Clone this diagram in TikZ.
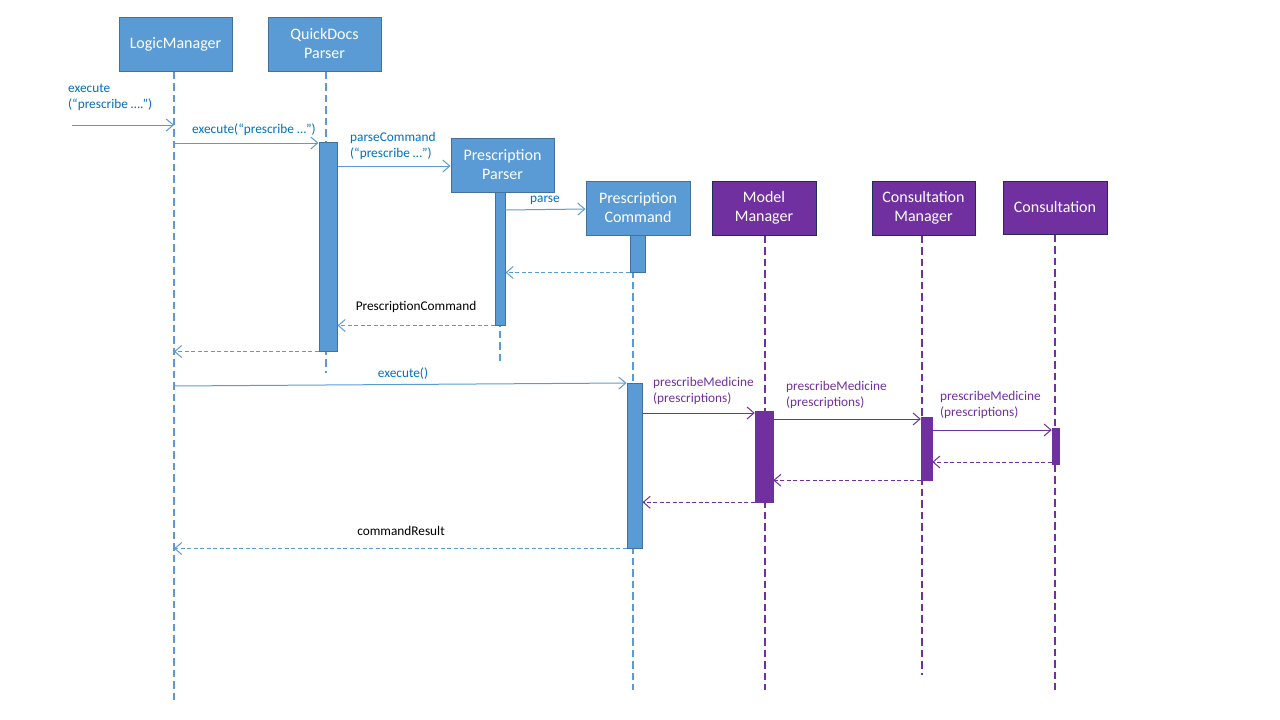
\documentclass[tikz,border=0pt]{standalone}
\usepackage{fontspec}
\setmainfont{Carlito}
\usetikzlibrary{arrows.meta}
\definecolor{bfill}{HTML}{5B9BD5}
\definecolor{bdraw}{HTML}{41719C}
\definecolor{btext}{HTML}{0070C0}
\definecolor{pfill}{HTML}{7030A0}
\definecolor{pdraw}{HTML}{1F2D5A}
\tikzset{
  objb/.style={draw=bdraw, fill=bfill, line width=1pt, text=white, align=center, inner sep=0pt,
    font=\fontsize{16}{19}\selectfont, minimum height=54pt},
  objp/.style={objb, draw=pdraw, fill=pfill},
  barb/.style={draw=bdraw, fill=bfill, line width=1pt, inner sep=0pt},
  barp/.style={draw=pfill, fill=pfill, line width=0.5pt, inner sep=0pt},
  lifeb/.style={draw=bfill, line width=2.2pt, dash pattern=on 7.5pt off 4pt},
  lifep/.style={lifeb, draw=pfill},
  tip/.style={-{Straight Barb[length=7pt,width=12pt]}},
  msgb/.style={tip, draw=bfill, line width=1pt},
  retb/.style={msgb, dash pattern=on 4pt off 2.5pt},
  msgp/.style={tip, draw=pfill, line width=1pt},
  retp/.style={msgp, dash pattern=on 4pt off 2.5pt},
  lblb/.style={text=btext, font=\fontsize{13.3}{16}\selectfont, inner sep=0pt, align=left},
  lblp/.style={lblb, text=pfill},
  lblk/.style={lblb, text=black},
}
\begin{document}
\begin{tikzpicture}[x=1pt,y=-1pt]
\useasboundingbox (0,0) rectangle (1280,720);
% objects
\node[objb, minimum width=113pt] (lm) at (175.5,44) {LogicManager};
\node[objb, minimum width=113pt] (qdp) at (324.5,44) {QuickDocs\\Parser};
\node[objb, minimum width=103pt] (pp) at (502.5,165) {Prescription\\Parser};
\node[objb, minimum width=104pt] (pc) at (638,208) {Prescription\\Command};
\node[objp, minimum width=104pt] (mm) at (764,208) {Model\\Manager};
\node[objp, minimum width=103pt] (cm) at (923.5,208) {Consultation\\Manager};
\node[objp, minimum width=104pt, minimum height=53pt] (c) at (1055,207.5) {Consultation};
% lifeline ends
\coordinate (llm) at (174,700);
\coordinate (lqdp) at (326,373);
\coordinate (lpp) at (500,362);
\coordinate (lpc) at (633,690);
\coordinate (lmm) at (765,690);
\coordinate (lcm) at (922,675);
\coordinate (lc) at (1055,690);
\draw[lifeb] (lm.south -| llm) -- (llm);
\draw[lifeb] (qdp.south -| lqdp) -- (lqdp);
\draw[lifeb] (pp.south -| lpp) -- (lpp);
\draw[lifeb] (pc.south -| lpc) -- (lpc);
\draw[lifep] (mm.south -| lmm) -- (lmm);
\draw[lifep] (cm.south -| lcm) -- (lcm);
\draw[lifep] (c.south -| lc) -- (lc);
% activation bars
\node[barb, minimum width=18pt, minimum height=209pt] (b1) at (328,246.5) {};
\node[barb, minimum width=10pt, minimum height=133pt] (b2) at (500,258.5) {};
\node[barb, minimum width=15pt, minimum height=37pt] (b3) at (637.5,253.5) {};
\node[barb, minimum width=15pt, minimum height=165pt] (b4) at (634.5,465.5) {};
\node[barp, minimum width=18pt, minimum height=91pt] (b5) at (764,456.5) {};
\node[barp, minimum width=11pt, minimum height=63pt] (b6) at (926.5,448.5) {};
\node[barp, minimum width=7pt, minimum height=36pt] (b7) at (1055.5,446) {};
% messages
\coordinate (ext) at (72,125);
\draw[msgb] (ext) -- (ext -| llm);
\draw[msgb] (llm |- 0,143) -- (b1.west |- 0,143);
\draw[msgb] (b1.east |- 0,166) -- (pp.west |- 0,166);
\draw[msgb] (b2.east |- 0,210) -- (pc.west |- 0,209);
\draw[retb] (b3.south west) -- (b2.east |- b3.south);
\draw[retb] (b2.south west) -- (b1.east |- b2.south);
\draw[retb] (b1.south west) -- (llm |- b1.south);
\draw[msgb] (llm |- 0,386) -- (b4.west |- 0,383);
\draw[msgp] (b4.east |- 0,413) -- (b5.west |- 0,413);
\draw[msgp] (b5.east |- 0,419) -- (b6.west |- 0,419);
\draw[msgp] (b6.east |- 0,430) -- (b7.west |- 0,430);
\draw[retp] (b7.west |- 0,462) -- (b6.east |- 0,462);
\draw[retp] (b6.south west) -- (b5.east |- b6.south);
\draw[retp] (b5.south west) -- (b4.east |- b5.south);
\draw[retb] (b4.south west) -- (llm |- b4.south);
% labels
\node[lblb, anchor=west] (t1) at (68,97.5) {execute\\(“prescribe ….”)};
\node[lblb] (t2) at (254,130) {execute(“prescribe …”)};
\node[lblb, anchor=west] (t3) at (350,146) {parseCommand\\(“prescribe …”)};
\node[lblb] (t4) at (545,200) {parse};
\node[lblk] (t6) at (416,307) {PrescriptionCommand};
\node[lblb] (t8) at (403,374) {execute()};
\node[lblp, anchor=west] (t9) at (653,391) {prescribeMedicine\\(prescriptions)};
\node[lblp, anchor=west] (t10) at (786,395) {prescribeMedicine\\(prescriptions)};
\node[lblp, anchor=west] (t11) at (940,405) {prescribeMedicine\\(prescriptions)};
\node[lblk] (t15) at (401,531) {commandResult};
\end{tikzpicture}
\end{document}
